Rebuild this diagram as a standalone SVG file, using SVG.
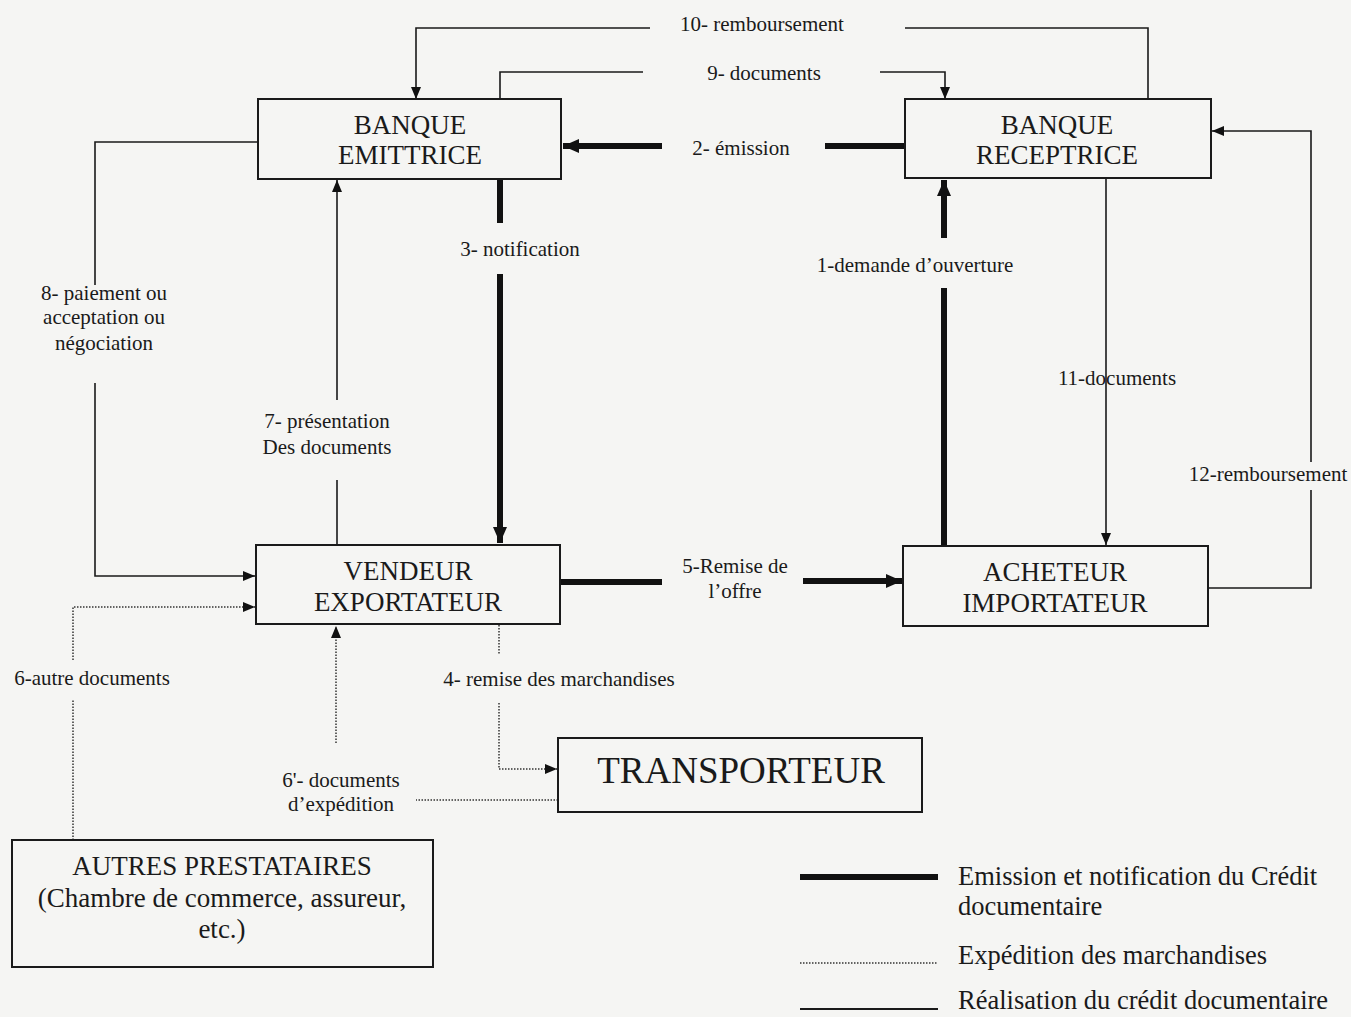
<svg xmlns="http://www.w3.org/2000/svg" width="1351" height="1017" viewBox="0 0 1351 1017">
  <style>
    .box { fill: #f5f5f3; stroke: #1a1a1a; stroke-width: 2; }
    .lbl { font-family: "Liberation Serif", "Times New Roman", serif; fill: #1a1a1a; text-anchor: middle; }
    .node { font-size: 27px; }
    .edge { font-size: 21px; }
    .thin { fill: none; stroke: #1a1a1a; stroke-width: 1.6; }
    .thick { fill: none; stroke: #111; stroke-width: 6; }
    .dot { fill: none; stroke: #333; stroke-width: 1.5; stroke-dasharray: 1.5 1.5; }
    .legend { font-family: "Liberation Serif", "Times New Roman", serif; font-size: 26.5px; fill: #1a1a1a; }
  </style>
  <defs>
    <marker id="arr" viewBox="0 0 12 10" refX="12" refY="5" markerWidth="12" markerHeight="10" markerUnits="userSpaceOnUse" orient="auto">
      <path d="M0,0 L12,5 L0,10 z" fill="#111"/>
    </marker>
    <marker id="arrBig" viewBox="0 0 16 14" refX="16" refY="7" markerWidth="16" markerHeight="14" markerUnits="userSpaceOnUse" orient="auto">
      <path d="M0,0 L16,7 L0,14 z" fill="#111"/>
    </marker>
  </defs>

  <rect x="0" y="0" width="1351" height="1017" fill="#f5f5f3"/>

  <!-- connectors -->
  <g id="connectors">
    <!-- 10- remboursement -->
    <path class="thin" d="M1148,99 V28 H905"/>
    <path class="thin" d="M650,28 H416 V99" marker-end="url(#arr)"/>
    <!-- 9- documents -->
    <path class="thin" d="M500,99 V72 H643"/>
    <path class="thin" d="M880,72 H945 V99" marker-end="url(#arr)"/>
    <!-- 2- émission -->
    <path class="thick" d="M905,146 H825"/>
    <path class="thick" d="M662,146 H563" marker-end="url(#arrBig)"/>
    <!-- 3- notification -->
    <path class="thick" d="M500,179 V223"/>
    <path class="thick" d="M500,274 V543" marker-end="url(#arrBig)"/>
    <!-- 1-demande d'ouverture -->
    <path class="thick" d="M944,546 V288"/>
    <path class="thick" d="M944,238 V180" marker-end="url(#arrBig)"/>
    <!-- 11-documents -->
    <path class="thin" d="M1106,178 V545" marker-end="url(#arr)"/>
    <!-- 12-remboursement -->
    <path class="thin" d="M1208,588 H1311 V490"/>
    <path class="thin" d="M1311,462 V131 H1212" marker-end="url(#arr)"/>
    <!-- 8- paiement ou acceptation ou négociation -->
    <path class="thin" d="M258,142 H95 V285"/>
    <path class="thin" d="M95,383 V576 H255" marker-end="url(#arr)"/>
    <!-- 7- présentation des documents -->
    <path class="thin" d="M337,545 V480"/>
    <path class="thin" d="M337,400 V180" marker-end="url(#arr)"/>
    <!-- 5-Remise de l'offre -->
    <path class="thick" d="M560,582 H662"/>
    <path class="thick" d="M803,581 H902" marker-end="url(#arrBig)"/>
    <!-- 4- remise des marchandises -->
    <path class="dot" d="M499,625 V655"/>
    <path class="dot" d="M499,703 V769 H557" marker-end="url(#arr)"/>
    <!-- 6'- documents d'expédition -->
    <path class="dot" d="M558,800 H416"/>
    <path class="dot" d="M336,743 V626" marker-end="url(#arr)"/>
    <!-- 6-autre documents -->
    <path class="dot" d="M73,840 V700"/>
    <path class="dot" d="M73,660 V607 H255" marker-end="url(#arr)"/>
  </g>

  <!-- connector labels -->
  <g id="edge-labels" class="lbl edge">
    <text x="762" y="31">10- remboursement</text>
    <text x="764" y="80">9- documents</text>
    <text x="741" y="155">2- émission</text>
    <text x="520" y="256">3- notification</text>
    <text x="915" y="272">1-demande d’ouverture</text>
    <text x="1117" y="385">11-documents</text>
    <text x="1268" y="481">12-remboursement</text>
    <text x="104" y="300">8- paiement ou</text>
    <text x="104" y="324">acceptation ou</text>
    <text x="104" y="350">négociation</text>
    <text x="327" y="428">7- présentation</text>
    <text x="327" y="454">Des documents</text>
    <text x="735" y="573">5-Remise de</text>
    <text x="735" y="598">l’offre</text>
    <text x="559" y="686">4- remise des marchandises</text>
    <text x="92" y="685">6-autre documents</text>
    <text x="341" y="787">6'- documents</text>
    <text x="341" y="811">d’expédition</text>
  </g>

  <!-- nodes -->
  <g id="banque-emittrice">
    <rect class="box" x="258" y="99" width="303" height="80"/>
    <text class="lbl node" x="410" y="134">BANQUE</text>
    <text class="lbl node" x="410" y="164">EMITTRICE</text>
  </g>
  <g id="banque-receptrice">
    <rect class="box" x="905" y="99" width="306" height="79"/>
    <text class="lbl node" x="1057" y="134">BANQUE</text>
    <text class="lbl node" x="1057" y="164">RECEPTRICE</text>
  </g>
  <g id="vendeur-exportateur">
    <rect class="box" x="256" y="545" width="304" height="79"/>
    <text class="lbl node" x="408" y="580">VENDEUR</text>
    <text class="lbl node" x="408" y="611">EXPORTATEUR</text>
  </g>
  <g id="acheteur-importateur">
    <rect class="box" x="903" y="546" width="305" height="80"/>
    <text class="lbl node" x="1055" y="581">ACHETEUR</text>
    <text class="lbl node" x="1055" y="612">IMPORTATEUR</text>
  </g>
  <g id="transporteur">
    <rect class="box" x="558" y="738" width="364" height="74"/>
    <text class="lbl" x="741" y="783" font-size="37">TRANSPORTEUR</text>
  </g>
  <g id="autres-prestataires">
    <rect class="box" x="12" y="840" width="421" height="127"/>
    <text class="lbl" x="222" y="875" font-size="27">AUTRES PRESTATAIRES</text>
    <text class="lbl" x="222" y="907" font-size="27">(Chambre de commerce, assureur,</text>
    <text class="lbl" x="222" y="938" font-size="27">etc.)</text>
  </g>

  <!-- legend -->
  <g id="legend">
    <line class="thick" x1="800" y1="877" x2="938" y2="877"/>
    <text class="legend" x="958" y="885">Emission et notification du Crédit</text>
    <text class="legend" x="958" y="915">documentaire</text>
    <line class="dot" x1="800" y1="963" x2="938" y2="963"/>
    <text class="legend" x="958" y="964">Expédition des marchandises</text>
    <line x1="800" y1="1009" x2="938" y2="1009" stroke="#1a1a1a" stroke-width="2"/>
    <text class="legend" x="958" y="1009">Réalisation du crédit documentaire</text>
  </g>
</svg>
